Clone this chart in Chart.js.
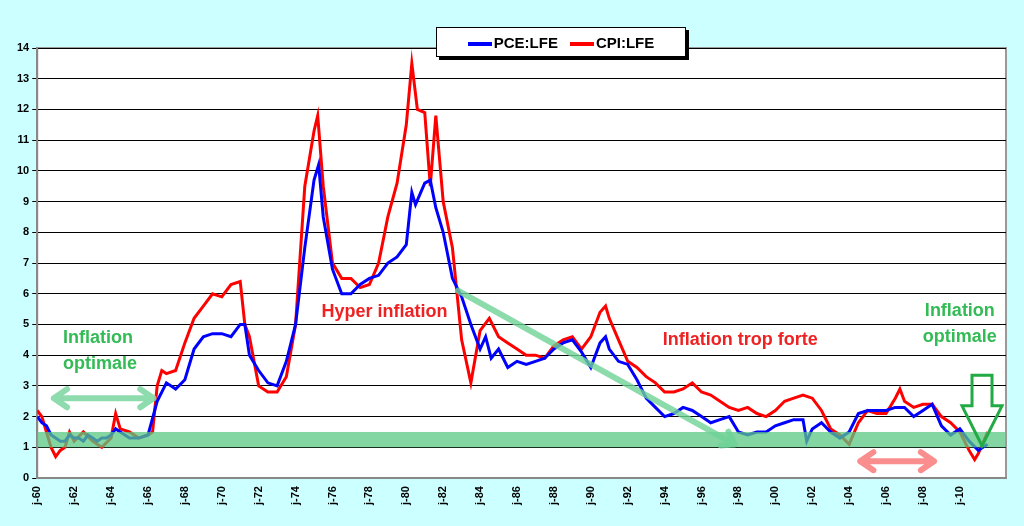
<!DOCTYPE html>
<html>
<head>
<meta charset="UTF-8" />
<title>PCE vs CPI</title>
<script src="https://cdn.jsdelivr.net/npm/chart.js"></script>
<style>
  body { margin: 0; background: #ccffff; font-family: Arial, "Liberation Sans", sans-serif; }
  #wrap { position: relative; width: 1024px; height: 526px; }
  #legend {
    position: absolute; left: 436px; top: 27px; width: 248px; height: 28px;
    background: white; border: 1px solid #000; box-shadow: 3px 3px 0 #000;
    font-weight: bold; font-size: 15px; display: flex; align-items: center; justify-content: center; gap: 12px;
  }
  #legend span.l { display: inline-block; width: 24px; height: 4px; vertical-align: middle; margin-right: 2px; }
</style>
</head>
<body>
<div id="wrap">
  <canvas id="chart" width="1024" height="526"></canvas>
  <div id="legend">
    <div><span class="l" style="background:#0000ff"></span>PCE:LFE</div>
    <div><span class="l" style="background:#ff0000"></span>CPI:LFE</div>
  </div>
</div>
<script>
  // dates (decimal years) and values
  const pceDates = [1960,1960.25,1960.5,1960.75,1961,1961.25,1961.5,1961.75,1962,1962.25,1962.5,1962.75,1963,1963.25,1963.5,1963.75,1964,1964.25,1964.5,1964.75,1965,1965.5,1966,1966.5,1967,1967.5,1968,1968.5,1969,1969.5,1970,1970.5,1971,1971.25,1971.5,1972,1972.5,1973,1973.5,1974,1974.5,1975,1975.25,1975.5,1976,1976.5,1977,1977.5,1978,1978.5,1979,1979.5,1980,1980.3,1980.5,1981,1981.3,1981.6,1982,1982.5,1983,1983.5,1984,1984.3,1984.6,1985,1985.5,1986,1986.5,1987,1987.5,1988,1988.5,1989,1989.5,1990,1990.5,1990.8,1991,1991.5,1992,1992.5,1993,1993.5,1994,1994.5,1995,1995.5,1996,1996.5,1997,1997.5,1998,1998.5,1999,1999.5,2000,2000.5,2001,2001.5,2001.7,2002,2002.5,2003,2003.5,2004,2004.5,2005,2005.5,2006,2006.5,2007,2007.5,2008,2008.5,2009,2009.5,2010,2010.5,2011,2011.5];
  const pceValues = [2.0,1.8,1.7,1.4,1.3,1.2,1.2,1.4,1.3,1.3,1.2,1.4,1.3,1.2,1.3,1.3,1.4,1.6,1.5,1.4,1.3,1.3,1.4,2.5,3.1,2.9,3.2,4.2,4.6,4.7,4.7,4.6,5.0,5.0,4.0,3.5,3.1,3.0,3.8,5.0,7.5,9.7,10.2,8.5,6.8,6.0,6.0,6.3,6.5,6.6,7.0,7.2,7.6,9.3,8.9,9.6,9.7,8.8,8.0,6.5,5.9,5.0,4.2,4.6,3.9,4.2,3.6,3.8,3.7,3.8,3.9,4.2,4.4,4.5,4.1,3.6,4.4,4.6,4.2,3.8,3.7,3.2,2.6,2.3,2.0,2.1,2.3,2.2,2.0,1.8,1.9,2.0,1.5,1.4,1.5,1.5,1.7,1.8,1.9,1.9,1.2,1.6,1.8,1.5,1.3,1.5,2.1,2.2,2.2,2.2,2.3,2.3,2.0,2.2,2.4,1.7,1.4,1.6,1.2,0.9,1.1];
  const cpiDates = [1960,1960.25,1960.5,1960.75,1961,1961.25,1961.5,1961.75,1962,1962.5,1963,1963.5,1964,1964.25,1964.5,1965,1965.5,1966,1966.25,1966.5,1966.75,1967,1967.5,1968,1968.5,1969,1969.5,1970,1970.5,1971,1971.25,1971.5,1972,1972.5,1973,1973.5,1974,1974.5,1975,1975.2,1975.5,1976,1976.5,1977,1977.5,1978,1978.5,1979,1979.5,1980,1980.3,1980.6,1981,1981.3,1981.6,1982,1982.5,1983,1983.5,1984,1984.5,1985,1985.5,1986,1986.5,1987,1987.5,1988,1988.5,1989,1989.5,1990,1990.5,1990.8,1991,1991.5,1992,1992.5,1993,1993.5,1994,1994.5,1995,1995.5,1996,1996.5,1997,1997.5,1998,1998.5,1999,1999.5,2000,2000.5,2001,2001.5,2002,2002.5,2003,2003.5,2004,2004.5,2005,2005.5,2006,2006.5,2006.75,2007,2007.5,2008,2008.5,2009,2009.5,2010,2010.5,2010.8,2011,2011.5];
  const cpiValues = [2.2,2.0,1.5,1.0,0.7,0.9,1.0,1.5,1.2,1.5,1.2,1.0,1.3,2.1,1.6,1.5,1.3,1.4,1.5,3.0,3.5,3.4,3.5,4.4,5.2,5.6,6.0,5.9,6.3,6.4,5.0,4.6,3.0,2.8,2.8,3.3,5.0,9.5,11.3,11.8,9.5,7.0,6.5,6.5,6.2,6.3,7.0,8.5,9.6,11.5,13.5,12.0,11.9,9.5,11.8,9.0,7.5,4.5,3.1,4.8,5.2,4.6,4.4,4.2,4.0,4.0,3.9,4.3,4.5,4.6,4.2,4.6,5.4,5.6,5.2,4.5,3.8,3.6,3.3,3.1,2.8,2.8,2.9,3.1,2.8,2.7,2.5,2.3,2.2,2.3,2.1,2.0,2.2,2.5,2.6,2.7,2.6,2.2,1.6,1.4,1.1,1.8,2.2,2.1,2.1,2.6,2.9,2.5,2.3,2.4,2.4,2.0,1.8,1.5,0.9,0.6,0.8,1.5];
  const yTicks = [0,1,2,3,4,5,6,7,8,9,10,11,12,13,14];
  const xTickYears = [1960,1962,1964,1966,1968,1970,1972,1974,1976,1978,1980,1982,1984,1986,1988,1990,1992,1994,1996,1998,2000,2002,2004,2006,2008,2010];

  const toXY = (d, v) => d.map((x, i) => ({ x: x, y: v[i] }));

  function arrowLine(ctx, x1, y1, x2, y2, head, both) {
    const a = Math.atan2(y2 - y1, x2 - x1);
    ctx.beginPath(); ctx.moveTo(x1, y1); ctx.lineTo(x2, y2);
    ctx.moveTo(x2 - head * Math.cos(a - 0.6), y2 - head * Math.sin(a - 0.6)); ctx.lineTo(x2, y2);
    ctx.lineTo(x2 - head * Math.cos(a + 0.6), y2 - head * Math.sin(a + 0.6));
    if (both) {
      ctx.moveTo(x1 + head * Math.cos(a - 0.6), y1 + head * Math.sin(a - 0.6)); ctx.lineTo(x1, y1);
      ctx.lineTo(x1 + head * Math.cos(a + 0.6), y1 + head * Math.sin(a + 0.6));
    }
    ctx.stroke();
  }

  // overlays: green band, arrows, texts
  const notes = {
    id: 'notes',
    afterDatasetsDraw(chart) {
      const ctx = chart.ctx, xs = chart.scales.x, ys = chart.scales.y, a = chart.chartArea;
      ctx.save();
      ctx.fillStyle = 'rgba(90,200,130,0.75)';
      ctx.fillRect(a.left, ys.getPixelForValue(1.5), a.right - a.left, ys.getPixelForValue(1) - ys.getPixelForValue(1.5));
      ctx.lineCap = 'round'; ctx.lineJoin = 'round';
      ctx.strokeStyle = 'rgba(110,210,150,0.8)'; ctx.lineWidth = 6;
      arrowLine(ctx, xs.getPixelForValue(1982.8), ys.getPixelForValue(6.1), xs.getPixelForValue(1997.8), ys.getPixelForValue(1.1), 14, false);
      ctx.strokeStyle = 'rgba(130,215,165,0.9)';
      arrowLine(ctx, xs.getPixelForValue(1960.9), ys.getPixelForValue(2.6), xs.getPixelForValue(1966.3), ys.getPixelForValue(2.6), 16, true);
      ctx.strokeStyle = 'rgba(250,130,130,0.9)';
      arrowLine(ctx, xs.getPixelForValue(2004.6), ys.getPixelForValue(0.55), xs.getPixelForValue(2008.6), ys.getPixelForValue(0.55), 16, true);
      // big outline arrow
      const cx = xs.getPixelForValue(2011.2), top = ys.getPixelForValue(3.35), mid = ys.getPixelForValue(2.35), tip = ys.getPixelForValue(1.05);
      ctx.strokeStyle = '#22aa44'; ctx.lineWidth = 3; ctx.lineCap = 'butt'; ctx.lineJoin = 'miter';
      ctx.beginPath();
      ctx.moveTo(cx - 10, top); ctx.lineTo(cx + 10, top); ctx.lineTo(cx + 10, mid); ctx.lineTo(cx + 20, mid);
      ctx.lineTo(cx, tip); ctx.lineTo(cx - 20, mid); ctx.lineTo(cx - 10, mid); ctx.closePath(); ctx.stroke();
      ctx.font = 'bold 18px Arial'; ctx.textAlign = 'left'; ctx.textBaseline = 'middle';
      ctx.fillStyle = '#33bb55';
      ctx.fillText('Inflation', xs.getPixelForValue(1961.4), ys.getPixelForValue(4.55));
      ctx.fillText('optimale', xs.getPixelForValue(1961.4), ys.getPixelForValue(3.7));
      ctx.textAlign = 'center';
      ctx.fillText('Inflation', xs.getPixelForValue(2010), ys.getPixelForValue(5.45));
      ctx.fillText('optimale', xs.getPixelForValue(2010), ys.getPixelForValue(4.6));
      ctx.fillStyle = '#ee2222'; ctx.textAlign = 'left';
      ctx.fillText('Hyper inflation', xs.getPixelForValue(1975.4), ys.getPixelForValue(5.4));
      ctx.fillText('Inflation trop forte', xs.getPixelForValue(1993.9), ys.getPixelForValue(4.5));
      ctx.restore();
    }
  };

  new Chart(document.getElementById('chart'), {
    type: 'line',
    data: {
      datasets: [
        { label: 'PCE:LFE', data: toXY(pceDates, pceValues), borderColor: '#0000ff', borderWidth: 3, pointRadius: 0, tension: 0 },
        { label: 'CPI:LFE', data: toXY(cpiDates, cpiValues), borderColor: '#ff0000', borderWidth: 3, pointRadius: 0, tension: 0 }
      ]
    },
    options: {
      responsive: false,
      animation: false,
      layout: { padding: { top: 48, right: 18, left: 14, bottom: 18 } },
      plugins: { legend: { display: false }, tooltip: { enabled: false } },
      scales: {
        x: {
          type: 'linear', min: 1960, max: 2012.5,
          afterBuildTicks: s => { s.ticks = xTickYears.map(v => ({ value: v })); },
          ticks: { maxRotation: 90, minRotation: 90, color: '#000', font: { size: 11, weight: 'bold' },
                   callback: v => 'j-' + String(v % 100).padStart(2, '0') },
          grid: { display: false, drawTicks: true, tickLength: 5 },
          border: { color: '#888', width: 2 }
        },
        y: {
          min: 0, max: 14,
          afterBuildTicks: s => { s.ticks = yTicks.map(v => ({ value: v })); },
          ticks: { color: '#000', font: { size: 11, weight: 'bold' } },
          grid: { color: '#000', lineWidth: 1, tickLength: 5 },
          border: { color: '#888', width: 2 }
        }
      }
    },
    plugins: [notes, {
      id: 'bg',
      beforeDraw(chart) {
        const c = chart.ctx, a = chart.chartArea;
        c.save(); c.fillStyle = '#ccffff'; c.fillRect(0, 0, chart.width, chart.height);
        c.fillStyle = '#fff'; c.fillRect(a.left, a.top, a.right - a.left, a.bottom - a.top);
        c.strokeStyle = '#999'; c.lineWidth = 2; c.strokeRect(a.left, a.top, a.right - a.left, a.bottom - a.top);
        c.restore();
      }
    }]
  });
</script>
</body>
</html>
